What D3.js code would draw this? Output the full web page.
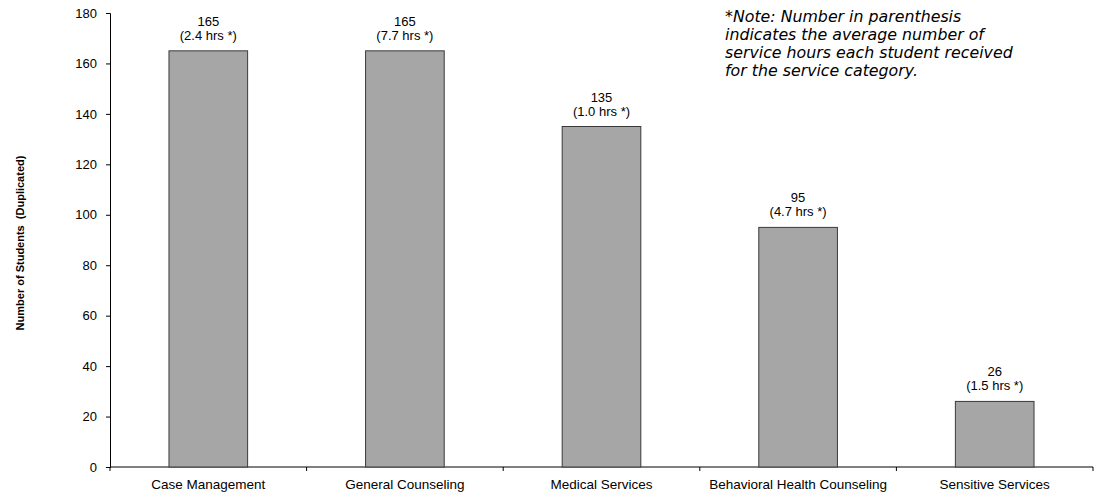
<!DOCTYPE html>
<html><head><meta charset="utf-8">
<script src="https://cdn.jsdelivr.net/npm/d3@7"></script>
<style>body{margin:0;background:#fff}svg{display:block}</style>
</head><body>
<svg id="c" width="1099" height="493"></svg>
<script>
const categories = ["Case Management","General Counseling","Medical Services","Behavioral Health Counseling","Sensitive Services"];
const students = [165,165,135,95,26];
const hours = ["2.4","7.7","1.0","4.7","1.5"];
const yTicks = [0,20,40,60,80,100,120,140,160,180];
const noteLines = ["*Note: Number in parenthesis","indicates the average number of","service hours each student received","for the service category."];

const svg = d3.select("#c");
const L = 110, R = 1093, T = 13, B = 467;
const x = d3.scaleBand().domain(categories).range([L, R]).paddingInner(0.6).paddingOuter(0.3);
const xb = d3.scaleLinear().domain([0, categories.length]).range([L, R]);
const y = d3.scaleLinear().domain([0,180]).range([B, T]);
const font = "'Liberation Sans', Arial, sans-serif";

// y axis
const ya = svg.append("g").attr("transform",`translate(${L},0)`)
  .call(d3.axisLeft(y).tickValues(yTicks).tickSize(4).tickPadding(9));
ya.selectAll("path,line").attr("stroke","#000");
ya.selectAll("text").attr("font-family",font).attr("font-size",13).attr("fill","#000");

// x axis line + boundary ticks
svg.append("line").attr("x1",L).attr("x2",R).attr("y1",B).attr("y2",B).attr("stroke","#000");
svg.selectAll(".xt").data(d3.range(categories.length+1)).join("line")
  .attr("x1",d=>xb(d)).attr("x2",d=>xb(d)).attr("y1",B).attr("y2",B+4).attr("stroke","#000");

// bars
svg.selectAll(".bar").data(categories).join("rect")
  .attr("x",d=>x(d)).attr("width",x.bandwidth())
  .attr("y",(d,i)=>y(students[i])).attr("height",(d,i)=>B-y(students[i]))
  .attr("fill","#a6a6a6").attr("stroke","#3a3a3a").attr("stroke-width",1);

// labels
const cx = d=>x(d)+x.bandwidth()/2;
svg.selectAll(".v1").data(categories).join("text")
  .attr("x",cx).attr("y",(d,i)=>y(students[i])-25)
  .attr("text-anchor","middle").attr("font-family",font).attr("font-size",13)
  .text((d,i)=>students[i]);
svg.selectAll(".v2").data(categories).join("text")
  .attr("x",cx).attr("y",(d,i)=>y(students[i])-11)
  .attr("text-anchor","middle").attr("font-family",font).attr("font-size",13)
  .text((d,i)=>`(${hours[i]} hrs *)`);

// x labels
svg.selectAll(".xl").data(categories).join("text")
  .attr("x",(d,i)=>(xb(i)+xb(i+1))/2).attr("y",489)
  .attr("text-anchor","middle").attr("font-family",font).attr("font-size",13.5)
  .text(d=>d);

// y title
svg.append("text").attr("transform","translate(24,243) rotate(-90)")
  .attr("text-anchor","middle").attr("font-family",font).attr("font-size",11).attr("font-weight","bold")
  .attr("xml:space","preserve")
  .text("Number of Students  (Duplicated)");

// note
svg.append("text").attr("font-family","'DejaVu Sans', Verdana, sans-serif").attr("font-size",15.8)
  .attr("font-style","italic").attr("fill","#000")
  .selectAll("tspan").data(noteLines).join("tspan")
  .attr("x",725).attr("y",(d,i)=>22+i*18).text(d=>d);
</script>
</body></html>
